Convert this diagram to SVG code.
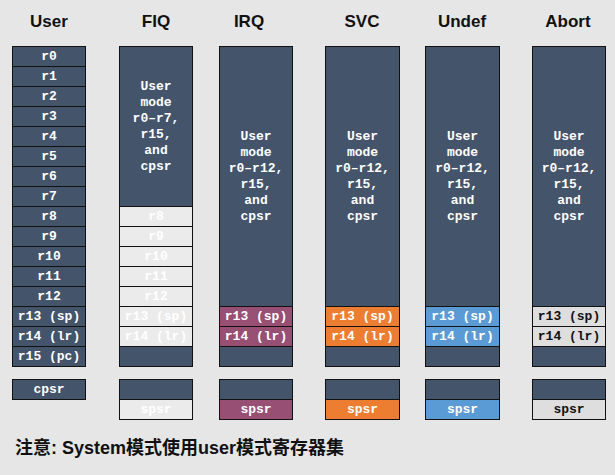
<svg xmlns="http://www.w3.org/2000/svg" width="615" height="475" viewBox="0 0 615 475">
<style>
.t{font-family:"Liberation Sans",Arial,sans-serif;font-weight:bold;font-size:17px;fill:#111;text-anchor:middle}
.r{font-family:"Liberation Mono","Courier New",monospace;font-weight:bold;font-size:13px;fill:#fff;text-anchor:middle;dominant-baseline:central}
.k{fill:#111}
.d{fill:#44546a;stroke:#111;stroke-width:1}
.l{fill:#ebebeb;stroke:#111;stroke-width:1}
.g{fill:#dedede;stroke:#111;stroke-width:1}
.m{fill:#974f73;stroke:#111;stroke-width:1}
.o{fill:#ed7d31;stroke:#111;stroke-width:1}
.b{fill:#5b9bd5;stroke:#111;stroke-width:1}
.n{font-family:"Liberation Sans","Noto Sans CJK SC",sans-serif;font-weight:bold;font-size:18px;fill:#111}
</style>
<rect x="0" y="0" width="615" height="475" fill="#e6e6e6"/>
<g id="titles">
<text class="t" x="49" y="27">User</text>
<text class="t" x="156" y="27">FIQ</text>
<text class="t" x="249" y="27">IRQ</text>
<text class="t" x="362" y="27">SVC</text>
<text class="t" x="462" y="27">Undef</text>
<text class="t" x="568" y="27">Abort</text>
</g>
<g id="user">
<rect class="d" x="12.5" y="46.5" width="73" height="20"/><text class="r" x="49" y="56.5">r0</text>
<rect class="d" x="12.5" y="66.5" width="73" height="20"/><text class="r" x="49" y="76.5">r1</text>
<rect class="d" x="12.5" y="86.5" width="73" height="20"/><text class="r" x="49" y="96.5">r2</text>
<rect class="d" x="12.5" y="106.5" width="73" height="20"/><text class="r" x="49" y="116.5">r3</text>
<rect class="d" x="12.5" y="126.5" width="73" height="20"/><text class="r" x="49" y="136.5">r4</text>
<rect class="d" x="12.5" y="146.5" width="73" height="20"/><text class="r" x="49" y="156.5">r5</text>
<rect class="d" x="12.5" y="166.5" width="73" height="20"/><text class="r" x="49" y="176.5">r6</text>
<rect class="d" x="12.5" y="186.5" width="73" height="20"/><text class="r" x="49" y="196.5">r7</text>
<rect class="d" x="12.5" y="206.5" width="73" height="20"/><text class="r" x="49" y="216.5">r8</text>
<rect class="d" x="12.5" y="226.5" width="73" height="20"/><text class="r" x="49" y="236.5">r9</text>
<rect class="d" x="12.5" y="246.5" width="73" height="20"/><text class="r" x="49" y="256.5">r10</text>
<rect class="d" x="12.5" y="266.5" width="73" height="20"/><text class="r" x="49" y="276.5">r11</text>
<rect class="d" x="12.5" y="286.5" width="73" height="20"/><text class="r" x="49" y="296.5">r12</text>
<rect class="d" x="12.5" y="306.5" width="73" height="20"/><text class="r" x="49" y="316.5">r13 (sp)</text>
<rect class="d" x="12.5" y="326.5" width="73" height="20"/><text class="r" x="49" y="336.5">r14 (lr)</text>
<rect class="d" x="12.5" y="346.5" width="73" height="20"/><text class="r" x="49" y="356.5">r15 (pc)</text>
<rect class="d" x="12.5" y="379.5" width="73" height="20"/><text class="r" x="49" y="389.5">cpsr</text>
</g>
<g id="fiq">
<rect class="d" x="119.5" y="46.5" width="73" height="160"/>
<text class="r" x="156" y="86">User</text>
<text class="r" x="156" y="102">mode</text>
<text class="r" x="156" y="118">r0–r7,</text>
<text class="r" x="156" y="134">r15,</text>
<text class="r" x="156" y="150">and</text>
<text class="r" x="156" y="166">cpsr</text>
<rect class="l" x="119.5" y="206.5" width="73" height="20"/><text class="r" x="156" y="216.5">r8</text>
<rect class="l" x="119.5" y="226.5" width="73" height="20"/><text class="r" x="156" y="236.5">r9</text>
<rect class="l" x="119.5" y="246.5" width="73" height="20"/><text class="r" x="156" y="256.5">r10</text>
<rect class="l" x="119.5" y="266.5" width="73" height="20"/><text class="r" x="156" y="276.5">r11</text>
<rect class="l" x="119.5" y="286.5" width="73" height="20"/><text class="r" x="156" y="296.5">r12</text>
<rect class="l" x="119.5" y="306.5" width="73" height="20"/><text class="r" x="156" y="316.5">r13 (sp)</text>
<rect class="l" x="119.5" y="326.5" width="73" height="20"/><text class="r" x="156" y="336.5">r14 (lr)</text>
<rect class="d" x="119.5" y="346.5" width="73" height="20"/>
<rect class="d" x="119.5" y="379.5" width="73" height="20"/>
<rect class="l" x="119.5" y="399.5" width="73" height="20"/><text class="r" x="156" y="409.5">spsr</text>
</g>
<g id="irq">
<rect class="d" x="219.5" y="46.5" width="73" height="260"/>
<text class="r" x="256" y="136">User</text>
<text class="r" x="256" y="152">mode</text>
<text class="r" x="256" y="168">r0–r12,</text>
<text class="r" x="256" y="184">r15,</text>
<text class="r" x="256" y="200">and</text>
<text class="r" x="256" y="216">cpsr</text>
<rect class="m" x="219.5" y="306.5" width="73" height="20"/><text class="r" x="256" y="316.5">r13 (sp)</text>
<rect class="m" x="219.5" y="326.5" width="73" height="20"/><text class="r" x="256" y="336.5">r14 (lr)</text>
<rect class="d" x="219.5" y="346.5" width="73" height="20"/>
<rect class="d" x="219.5" y="379.5" width="73" height="20"/>
<rect class="m" x="219.5" y="399.5" width="73" height="20"/><text class="r" x="256" y="409.5">spsr</text>
</g>
<g id="svc">
<rect class="d" x="325.5" y="46.5" width="74" height="260"/>
<text class="r" x="362.5" y="136">User</text>
<text class="r" x="362.5" y="152">mode</text>
<text class="r" x="362.5" y="168">r0–r12,</text>
<text class="r" x="362.5" y="184">r15,</text>
<text class="r" x="362.5" y="200">and</text>
<text class="r" x="362.5" y="216">cpsr</text>
<rect class="o" x="325.5" y="306.5" width="74" height="20"/><text class="r" x="362.5" y="316.5">r13 (sp)</text>
<rect class="o" x="325.5" y="326.5" width="74" height="20"/><text class="r" x="362.5" y="336.5">r14 (lr)</text>
<rect class="d" x="325.5" y="346.5" width="74" height="20"/>
<rect class="d" x="325.5" y="379.5" width="74" height="20"/>
<rect class="o" x="325.5" y="399.5" width="74" height="20"/><text class="r" x="362.5" y="409.5">spsr</text>
</g>
<g id="undef">
<rect class="d" x="425.5" y="46.5" width="74" height="260"/>
<text class="r" x="462.5" y="136">User</text>
<text class="r" x="462.5" y="152">mode</text>
<text class="r" x="462.5" y="168">r0–r12,</text>
<text class="r" x="462.5" y="184">r15,</text>
<text class="r" x="462.5" y="200">and</text>
<text class="r" x="462.5" y="216">cpsr</text>
<rect class="b" x="425.5" y="306.5" width="74" height="20"/><text class="r" x="462.5" y="316.5">r13 (sp)</text>
<rect class="b" x="425.5" y="326.5" width="74" height="20"/><text class="r" x="462.5" y="336.5">r14 (lr)</text>
<rect class="d" x="425.5" y="346.5" width="74" height="20"/>
<rect class="d" x="425.5" y="379.5" width="74" height="20"/>
<rect class="b" x="425.5" y="399.5" width="74" height="20"/><text class="r" x="462.5" y="409.5">spsr</text>
</g>
<g id="abort">
<rect class="d" x="532.5" y="46.5" width="73" height="260"/>
<text class="r" x="569" y="136">User</text>
<text class="r" x="569" y="152">mode</text>
<text class="r" x="569" y="168">r0–r12,</text>
<text class="r" x="569" y="184">r15,</text>
<text class="r" x="569" y="200">and</text>
<text class="r" x="569" y="216">cpsr</text>
<rect class="g" x="532.5" y="306.5" width="73" height="20"/><text class="r k" x="569" y="316.5">r13 (sp)</text>
<rect class="g" x="532.5" y="326.5" width="73" height="20"/><text class="r k" x="569" y="336.5">r14 (lr)</text>
<rect class="d" x="532.5" y="346.5" width="73" height="20"/>
<rect class="d" x="532.5" y="379.5" width="73" height="20"/>
<rect class="g" x="532.5" y="399.5" width="73" height="20"/><text class="r k" x="569" y="409.5">spsr</text>
</g>
<g id="note">
<text class="n" x="15" y="454">注意: System模式使用user模式寄存器集</text>
</g>
</svg>
